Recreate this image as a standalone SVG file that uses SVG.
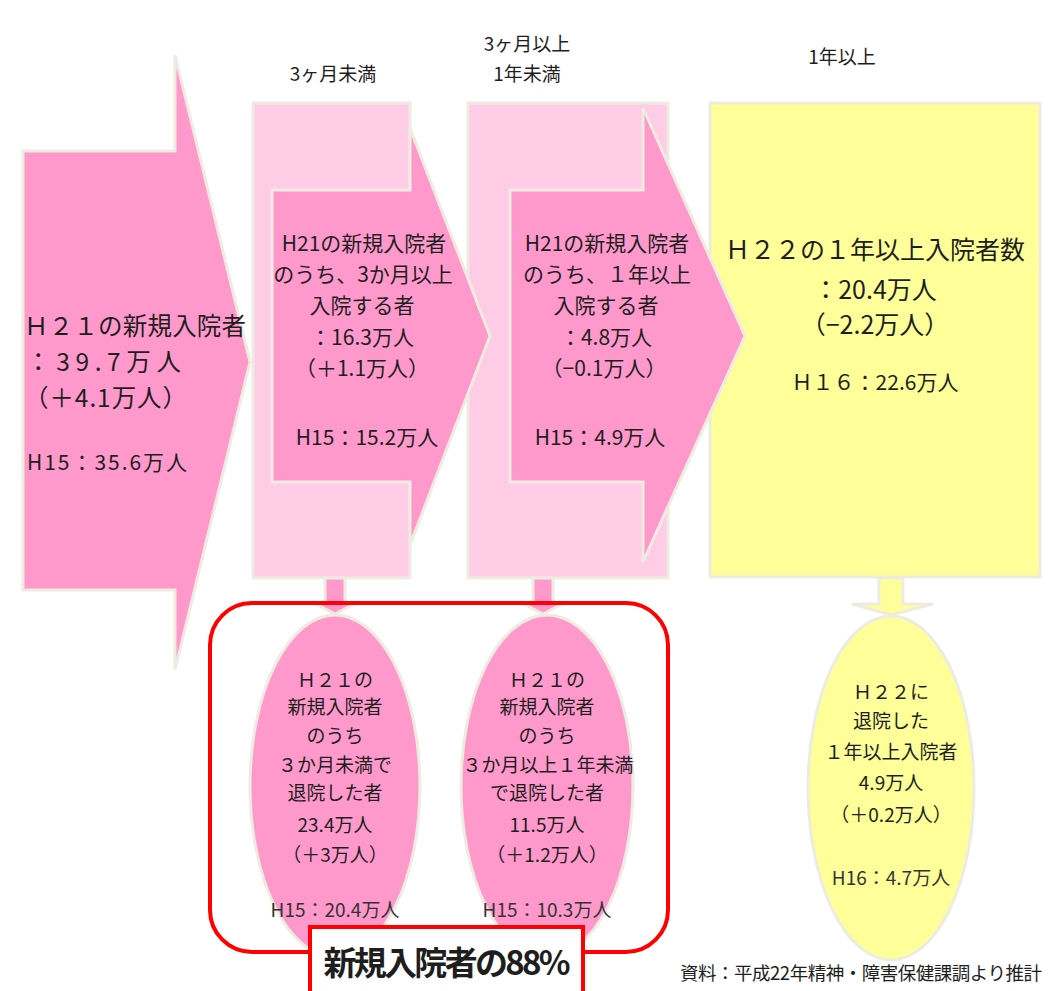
<svg xmlns="http://www.w3.org/2000/svg" width="1048" height="991" viewBox="0 0 1048 991">
<style>
text{font-family:"Noto Sans CJK JP","Noto Sans",sans-serif;fill:#1e1e1e}
.dk{fill:#ff99cc;stroke:#eeece1;stroke-width:3}
.lt{fill:#ffcce6;stroke:#eeece1;stroke-width:3}
.yl{fill:#ffff99;stroke:#eeece1;stroke-width:3}
.c{text-anchor:middle}
.h{font-size:19px}
.t2{font-size:21px}
.t3{font-size:19px}
.s{font-size:19px;fill:#333}
</style>
<rect width="1048" height="991" fill="#ffffff"/>

<g id="headers">
<text class="h c" x="333" y="81">3ヶ月未満</text>
<text class="h c" x="527" y="51">3ヶ月以上</text>
<text class="h c" x="527" y="81">1年未満</text>
<text class="h c" x="842" y="64">1年以上</text>
</g>

<g id="col2-bg"><rect class="lt" x="253" y="103" width="157" height="475"/></g>
<g id="col3-bg"><rect class="lt" x="468" y="103" width="200" height="475"/></g>
<g id="col4">
<rect class="yl" x="710" y="103" width="330" height="474"/>
<text class="c" x="875" y="259" font-size="25">Ｈ２２の１年以上入院者数</text>
<text class="c" x="875" y="299" font-size="25">：20.4万人</text>
<text class="c" x="875" y="334" font-size="25">（−2.2万人）</text>
<text class="c" x="875" y="390" font-size="21" fill="#333">Ｈ１６：22.6万人</text>
</g>

<g id="new-admissions">
<polygon class="dk" points="23,151 175,151 175,55 250,362 175,670 175,590 23,590"/>
<text x="24" y="335" font-size="24.5" textLength="222">Ｈ２１の新規入院者</text>
<text x="26" y="371" font-size="24.5" textLength="155">：39.7万人</text>
<text x="24" y="407" font-size="24.5" textLength="163">（＋4.1万人）</text>
<text x="27" y="470" font-size="21" fill="#333" textLength="160">H15：35.6万人</text>
</g>

<g id="col2-arrow">
<polygon class="dk" points="272,190 410,190 410,128 490,336 410,545 410,482 272,482"/>
<text class="t2 c" x="364" y="251">H21の新規入院者</text>
<text class="t2 c" x="363" y="282">のうち、3か月以上</text>
<text class="t2 c" x="362" y="313">入院する者</text>
<text class="t2 c" x="362" y="345">：16.3万人</text>
<text class="t2 c" x="362" y="376">（＋1.1万人）</text>
<text class="t2 c" x="367" y="445" fill="#333">H15：15.2万人</text>
</g>

<g id="col3-arrow">
<polygon class="dk" points="510,190 643,190 643,108 745,336 643,562 643,482 510,482"/>
<text class="t2 c" x="607" y="251">H21の新規入院者</text>
<text class="t2 c" x="607" y="282">のうち、１年以上</text>
<text class="t2 c" x="606" y="313">入院する者</text>
<text class="t2 c" x="606" y="345">：4.8万人</text>
<text class="t2 c" x="604" y="376">（−0.1万人）</text>
<text class="t2 c" x="600" y="445" fill="#333">H15：4.9万人</text>
</g>

<g id="connectors">
<polygon class="dk" stroke-width="2" points="325,578 345,578 345,603 356,603 335,614 314,603 325,603"/>
<polygon class="dk" stroke-width="2" points="533,578 553,578 553,603 564,603 543,614 522,603 533,603"/>
<polygon class="yl" stroke-width="2" points="879,578 903,578 903,604 933,604 891,615 852,604 879,604"/>
</g>

<g id="discharge-3m">
<ellipse class="dk" cx="335" cy="786" rx="85" ry="171"/>
<text class="t3 c" x="335" y="687">Ｈ２１の</text>
<text class="t3 c" x="335" y="714">新規入院者</text>
<text class="t3 c" x="335" y="743">のうち</text>
<text class="t3 c" x="335" y="772">３か月未満で</text>
<text class="t3 c" x="335" y="800">退院した者</text>
<text class="t3 c" x="335" y="832">23.4万人</text>
<text class="t3 c" x="335" y="862">（＋3万人）</text>
<text class="s c" x="335" y="917">H15：20.4万人</text>
</g>

<g id="discharge-1y">
<ellipse class="dk" cx="547" cy="786" rx="86" ry="171"/>
<text class="t3 c" x="547" y="687">Ｈ２１の</text>
<text class="t3 c" x="547" y="714">新規入院者</text>
<text class="t3 c" x="547" y="743">のうち</text>
<text class="t3 c" x="548" y="772">３か月以上１年未満</text>
<text class="t3 c" x="547" y="800">で退院した者</text>
<text class="t3 c" x="547" y="832">11.5万人</text>
<text class="t3 c" x="547" y="862">（＋1.2万人）</text>
<text class="s c" x="547" y="917">H15：10.3万人</text>
</g>

<g id="discharge-long">
<ellipse class="yl" cx="891" cy="788" rx="83" ry="172"/>
<text class="t3 c" x="891" y="699">Ｈ２２に</text>
<text class="t3 c" x="891" y="728">退院した</text>
<text class="t3 c" x="891" y="759">１年以上入院者</text>
<text class="t3 c" x="891" y="790">4.9万人</text>
<text class="t3 c" x="891" y="822">（＋0.2万人）</text>
<text class="s c" x="891" y="885">H16：4.7万人</text>
</g>

<g id="highlight">
<rect x="210" y="603" width="458" height="349" rx="42" fill="none" stroke="#ff0000" stroke-width="4"/>
<rect x="310" y="927" width="273" height="70" fill="#ffffff" stroke="#ff0000" stroke-width="4"/>
<text class="c" x="447" y="975" font-size="33" font-weight="bold" textLength="247">新規入院者の88%</text>
</g>

<g id="source">
<text x="680" y="980" font-size="18.5" textLength="362">資料：平成22年精神・障害保健課調より推計</text>
</g>
</svg>
